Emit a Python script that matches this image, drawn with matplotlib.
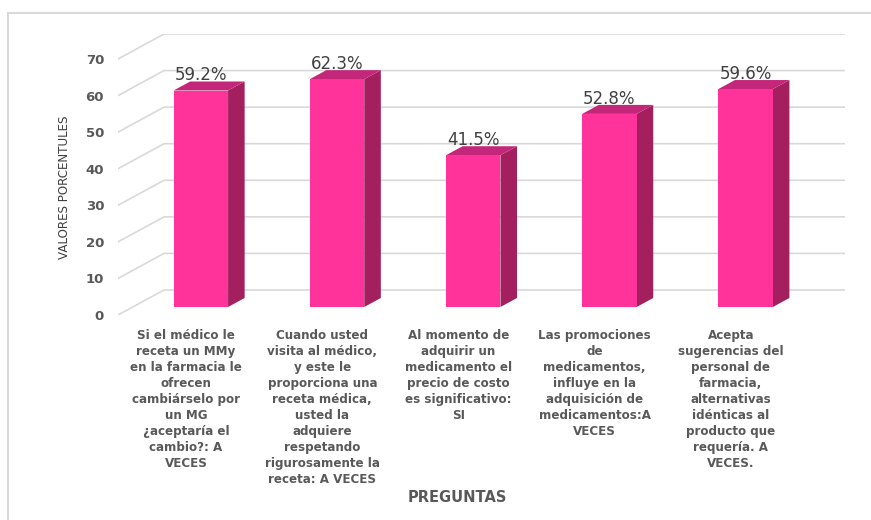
import matplotlib
matplotlib.use("Agg")
from matplotlib import pyplot as plt
from matplotlib.patches import Polygon, Rectangle

# Data
preguntas = [
    "Si el médico le\nreceta un MMy\nen la farmacia le\nofrecen\ncambiárselo por\nun MG\n¿aceptaría el\ncambio?: A\nVECES",
    "Cuando usted\nvisita al médico,\ny este le\nproporciona una\nreceta médica,\nusted la\nadquiere\nrespetando\nrigurosamente la\nreceta: A VECES",
    "Al momento de\nadquirir un\nmedicamento el\nprecio de costo\nes significativo:\nSI",
    "Las promociones\nde\nmedicamentos,\ninfluye en la\nadquisición de\nmedicamentos:A\nVECES",
    "Acepta\nsugerencias del\npersonal de\nfarmacia,\nalternativas\nidénticas al\nproducto que\nrequería. A\nVECES.",
]
valores = [59.2, 62.3, 41.5, 52.8, 59.6]
etiquetas = ["59.2%", "62.3%", "41.5%", "52.8%", "59.6%"]
yticks = [0, 10, 20, 30, 40, 50, 60, 70]

# 3D look: depth offset of back wall in data units
DX = 0.338
DY = 6.84
D0, D1 = 0.32, 0.68   # bar depth range
W = 0.40              # bar width

FRONT = "#FF3399"
SIDE = "#A31F5E"
TOP = "#C2277A"
GRID = "#D9D9D9"
TXT = "#595959"

fig = plt.figure(figsize=(8.71, 5.20), dpi=100)
ax = fig.add_axes([118 / 871, 1 - 315 / 520, (845 - 118) / 871, (315 - 34) / 520])
ax.set_xlim(-0.5, 4.5 + DX)
ax.set_ylim(0, 70 + DY)

# frame around chart
fig.patches.append(Rectangle((8 / 871, -0.1), 1.0, (520 - 13) / 520 + 0.1,
                             transform=fig.transFigure, fill=False,
                             edgecolor="#D9D9D9", linewidth=1.5))

# gridlines (front diagonal + back wall)
for v in yticks:
    ax.plot([-0.5, -0.5 + DX, 4.5 + DX], [v, v + DY, v + DY],
            color=GRID, linewidth=1.2, zorder=1)

# bars
for i, v in enumerate(valores):
    x0 = i - W / 2 + D0 * DX
    y0 = D0 * DY
    x1 = x0 + W
    ddx = (D1 - D0) * DX
    ddy = (D1 - D0) * DY
    ax.add_patch(Polygon([(x1, y0), (x1 + ddx, y0 + ddy), (x1 + ddx, y0 + v + ddy), (x1, y0 + v)],
                         closed=True, facecolor=SIDE, edgecolor="none", zorder=3))
    ax.add_patch(Polygon([(x0, y0 + v), (x1, y0 + v), (x1 + ddx, y0 + v + ddy), (x0 + ddx, y0 + v + ddy)],
                         closed=True, facecolor=TOP, edgecolor="none", zorder=3))
    ax.add_patch(Rectangle((x0, y0), W, v, facecolor=FRONT, edgecolor="none", zorder=4))
    ax.annotate(etiquetas[i], xy=(i + D0 * DX, y0 + v), xytext=(0, 11),
                textcoords="offset points", ha="center", va="center",
                fontsize=12, color="#404040", zorder=5)

for s in ax.spines.values():
    s.set_visible(False)
ax.set_yticks(yticks)
ax.set_yticklabels([str(t) for t in yticks], fontsize=9.5, fontweight="bold", color=TXT)
ax.tick_params(axis="y", length=0, pad=10)
ax.set_xticks(range(len(preguntas)))
ax.set_xticklabels(preguntas, fontsize=8.6, fontweight="bold", color=TXT,
                   linespacing=1.3, va="top")
ax.tick_params(axis="x", length=0, pad=10)

fig.text(65 / 871, 1 - 187 / 520, "VALORES PORCENTULES", rotation=90,
         ha="center", va="center", fontsize=8.6, color="#404040")
fig.text(457 / 871, 1 - 498 / 520, "PREGUNTAS", ha="center", va="center",
         fontsize=10.5, fontweight="bold", color=TXT)

fig.savefig("out.png", dpi=100)
